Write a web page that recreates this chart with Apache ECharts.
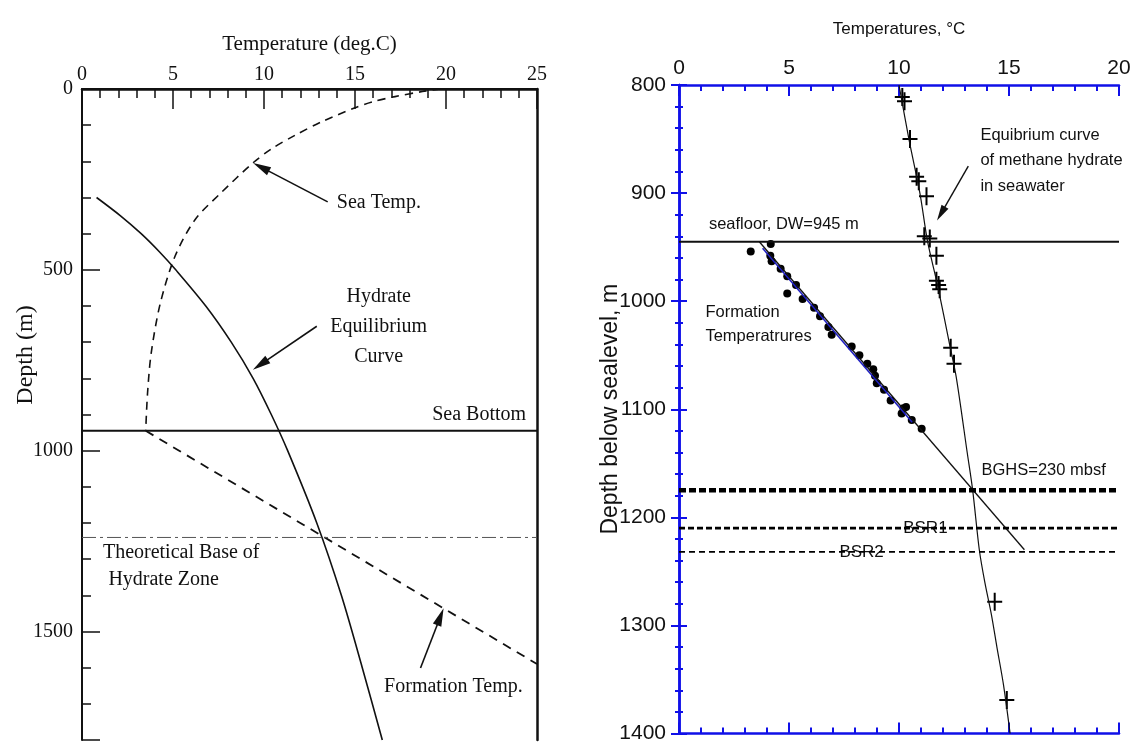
<!DOCTYPE html>
<html><head><meta charset="utf-8">
<script src="https://cdn.jsdelivr.net/npm/echarts@6/dist/echarts.min.js"></script>
<style>html,body{margin:0;padding:0;background:#fff}#c{width:1138px;height:744px}</style>
</head><body><div id="c"></div>
<script>
// ---------- LEFT PANEL DATA (temperature °C, depth m) ----------
const leftTempRange = [0, 25];
const leftDepthRange = [0, 1800];
const seaTemp = [[19.7,0],[18.7,7],[17.2,21],[16.0,35],[15.0,52],[13.2,90],[11.7,128],[10.4,166],[9.4,204],[7.6,289],[6.2,362],[5.1,464],[4.3,593],[3.8,731],[3.6,842],[3.5,945]];
const hydrateCurve = [[0.8,300],[2.1,350],[3.25,400],[4.25,450],[5.15,500],[6.8,600],[8.2,700],[9.4,800],[10.4,900],[11.3,1000],[12.9,1200],[14.25,1400],[15.4,1600],[16.5,1800]];
const formationTemp = [[3.5,945],[25,1590]];
const seaBottomDepth = 945;
const theoreticalBaseDepth = 1240;
const leftLabels = [
  {text:'Sea Temp.', at:[14.0,314], align:'left'},
  {text:'Hydrate\nEquilibrium\nCurve', at:[16.3,657], align:'center'},
  {text:'Sea Bottom', at:[24.4,902], align:'right'},
  {text:'Theoretical Base of', at:[1.15,1283], align:'left'},
  {text:'Hydrate Zone', at:[1.45,1357], align:'left'},
  {text:'Formation Temp.', at:[16.6,1652], align:'left'}
];
const leftArrows = [
  [[13.5,312],[9.84,216]],
  [[12.9,656],[9.80,762]],
  [[18.6,1601],[19.69,1459]]
];

// ---------- RIGHT PANEL DATA ----------
const rightTempRange = [0, 20];
const rightDepthRange = [800, 1400];
const eqCurve = [[10.0,800],[10.45,850],[10.95,900],[11.3,945],[11.75,985],[12.3,1040],[12.6,1070],[13.1,1140],[13.35,1175],[13.65,1230],[13.9,1260],[14.2,1290],[14.45,1320],[14.75,1355],[15.05,1400]];
const eqPoints = [[10.15,811],[10.25,815],[10.5,850],[10.8,885],[10.9,889],[11.25,903],[11.15,940],[11.4,942],[11.7,958],[11.7,981],[11.8,985],[11.85,989],[12.35,1043],[12.5,1058],[14.35,1278],[14.9,1369]];
const formationPoints = [[3.26,954],[4.17,947],[4.15,958],[4.21,963],[4.62,970],[4.92,977],[4.92,993],[5.32,985],[5.62,998],[6.14,1006],[6.41,1014],[6.79,1024],[6.94,1031],[7.85,1042],[8.2,1050],[8.56,1058],[8.83,1063],[8.91,1069],[8.99,1076],[9.32,1082],[9.62,1092],[10.2,1099],[10.32,1098],[10.12,1104],[10.58,1110],[11.03,1118]];
const formationFit = [[3.65,945],[15.7,1230]];
const formationFitBlue = [[3.8,951],[10.6,1112]];
const seafloorDepth = 945;
const bghsDepth = 1175;
const bsr1Depth = 1210;
const bsr2Depth = 1232;
const rightLabels = [
  {text:'seafloor, DW=945 m', at:[1.36,929], align:'left'},
  {text:'Formation', at:[1.2,1010], align:'left'},
  {text:'Temperatrures', at:[1.2,1033], align:'left'},
  {text:'Equibrium curve', at:[13.7,847], align:'left'},
  {text:'of methane hydrate', at:[13.7,870], align:'left'},
  {text:'in seawater', at:[13.7,894], align:'left'},
  {text:'BGHS=230 mbsf', at:[13.75,1157], align:'left'}
];
const bsrLabels = [
  {text:'BSR1', at:[11.2,bsr1Depth]},
  {text:'BSR2', at:[8.3,bsr2Depth]}
];
const rightArrows = [
  [[13.15,875],[11.91,919]]
];

// ---------- STYLE ----------
const serif = "'Liberation Serif','Times New Roman',serif";
const sans = "'Liberation Sans',Arial,sans-serif";
const K = '#111';
const BLUE = '#1010e8';

function hline(depth, xr){ return [[xr[0],depth],[xr[1],depth]]; }
function labelData(arr){
  return arr.map(d => ({name:d.text, value:d.at, label:{align:d.align||'center'}}));
}
function arrowData(arr){
  return arr.map(a => [{coord:a[0]},{coord:a[1]}]);
}

const chart = echarts.init(document.getElementById('c'), null, {renderer:'canvas'});
const option = {
  animation:false,
  backgroundColor:'#fff',
  grid:[
    {left:82, top:89, width:455, height:651},
    {left:679, top:85, width:440, height:655},
    {left:82, top:89, width:455, height:532}   // only carries the left depth-axis title
  ],
  xAxis:[
    {gridIndex:0, type:'value', position:'top', min:leftTempRange[0], max:leftTempRange[1], interval:5,
     name:'Temperature (deg.C)', nameLocation:'middle', nameGap:34, nameMoveOverlap:false,
     nameTextStyle:{fontFamily:serif, fontSize:21, color:K},
     axisLine:{show:true, lineStyle:{color:K, width:2}},
     axisTick:{show:true, inside:true, length:20, lineStyle:{color:K, width:1.5}},
     minorTick:{show:true, splitNumber:5, length:9, lineStyle:{color:K, width:1.5}},
     axisLabel:{fontFamily:serif, fontSize:20, color:K, margin:4},
     splitLine:{show:false}, minorSplitLine:{show:false}},
    {gridIndex:0, type:'value', position:'bottom', min:leftTempRange[0], max:leftTempRange[1],
     axisLine:{show:true, lineStyle:{color:K, width:2.5}}, axisTick:{show:false}, axisLabel:{show:false}, splitLine:{show:false}},
    {gridIndex:1, type:'value', position:'top', min:rightTempRange[0], max:rightTempRange[1], interval:5,
     name:'Temperatures, °C', nameLocation:'middle', nameGap:47, nameMoveOverlap:false,
     nameTextStyle:{fontFamily:sans, fontSize:17, color:K},
     axisLine:{show:true, lineStyle:{color:BLUE, width:2.5}},
     axisTick:{show:true, inside:true, length:11, lineStyle:{color:BLUE, width:2}},
     minorTick:{show:true, splitNumber:5, length:6, lineStyle:{color:BLUE, width:2}},
     axisLabel:{fontFamily:sans, fontSize:21, color:K, margin:6},
     splitLine:{show:false}},
    {gridIndex:1, type:'value', position:'bottom', min:rightTempRange[0], max:rightTempRange[1], interval:5,
     axisLine:{show:true, lineStyle:{color:BLUE, width:2.5}},
     axisTick:{show:true, inside:true, length:11, lineStyle:{color:BLUE, width:2}},
     minorTick:{show:true, splitNumber:5, length:6, lineStyle:{color:BLUE, width:2}},
     axisLabel:{show:false}, splitLine:{show:false}},
    {gridIndex:2, type:'value', show:false, min:0, max:1}
  ],
  yAxis:[
    {gridIndex:0, type:'value', inverse:true, position:'left', min:leftDepthRange[0], max:leftDepthRange[1], interval:100,
     axisLine:{show:true, lineStyle:{color:K, width:2}},
     axisTick:{show:true, inside:true, length:9, lineStyle:{color:K, width:1.5}},
     axisLabel:{fontFamily:serif, fontSize:20, color:K, margin:9, formatter:v => (v % 500 === 0 ? String(v) : '')},
     splitLine:{show:false}},
    {gridIndex:0, type:'value', inverse:true, position:'left', min:leftDepthRange[0], max:leftDepthRange[1], interval:500,
     axisLine:{show:false},
     axisTick:{show:true, inside:true, length:18, lineStyle:{color:K, width:1.5}},
     axisLabel:{show:false}, splitLine:{show:false}},
    {gridIndex:0, type:'value', inverse:true, position:'right', min:leftDepthRange[0], max:leftDepthRange[1],
     axisLine:{show:true, lineStyle:{color:K, width:2.5}}, axisTick:{show:false}, axisLabel:{show:false}, splitLine:{show:false}},
    {gridIndex:1, type:'value', inverse:true, position:'left', min:rightDepthRange[0], max:rightDepthRange[1], interval:100,
     name:'Depth below sealevel, m', nameLocation:'middle', nameGap:57, nameMoveOverlap:false,
     nameTextStyle:{fontFamily:sans, fontSize:23, color:K},
     axisLine:{show:true, lineStyle:{color:BLUE, width:2.5}},
     axisTick:{show:true, inside:true, length:8, lineStyle:{color:BLUE, width:2}},
     minorTick:{show:true, splitNumber:5, length:4, lineStyle:{color:BLUE, width:2}},
     axisLabel:{fontFamily:sans, fontSize:21, color:K, margin:13, formatter:v => String(v)},
     splitLine:{show:false}},
    {gridIndex:1, type:'value', inverse:true, position:'right', min:rightDepthRange[0], max:rightDepthRange[1], interval:100,
     axisLine:{show:true, lineStyle:{color:BLUE, width:2.5}},
     axisTick:{show:true, inside:true, length:8, lineStyle:{color:BLUE, width:2}},
     minorTick:{show:true, splitNumber:5, length:4, lineStyle:{color:BLUE, width:2}},
     axisLabel:{show:false}, splitLine:{show:false}},
    {gridIndex:2, type:'value', inverse:true, position:'left', min:0, max:1,
     name:'Depth (m)', nameLocation:'middle', nameGap:44, nameMoveOverlap:false,
     nameTextStyle:{fontFamily:serif, fontSize:24, color:K},
     axisLine:{show:false}, axisTick:{show:false}, axisLabel:{show:false}, splitLine:{show:false}}
  ],
  series:[
    // left panel
    {type:'line', xAxisIndex:0, yAxisIndex:0, data:seaTemp, smooth:0.3, symbol:'none',
     lineStyle:{color:K, width:1.6, type:[8,6]}},
    {type:'line', xAxisIndex:0, yAxisIndex:0, data:hydrateCurve, smooth:0.3, symbol:'none',
     lineStyle:{color:K, width:1.6}},
    {type:'line', xAxisIndex:0, yAxisIndex:0, data:formationTemp, symbol:'none',
     lineStyle:{color:K, width:1.8, type:[9,7]}},
    {type:'line', xAxisIndex:0, yAxisIndex:0, data:hline(seaBottomDepth, leftTempRange), symbol:'none',
     lineStyle:{color:K, width:2}},
    {type:'line', xAxisIndex:0, yAxisIndex:0, data:hline(theoreticalBaseDepth, leftTempRange), symbol:'none',
     lineStyle:{color:'#555', width:1, type:[14,4,3,4]}},
    {type:'scatter', xAxisIndex:0, yAxisIndex:0, symbolSize:0, silent:true,
     data:labelData(leftLabels), itemStyle:{opacity:1},
     label:{show:true, position:[0,0], verticalAlign:'middle', formatter:'{b}', fontFamily:serif, fontSize:20, lineHeight:30, color:K},
     markLine:{silent:true, symbol:['none','triangle'], symbolSize:[9,18], animation:false,
       lineStyle:{color:K, width:1.6, type:'solid'}, label:{show:false}, emphasis:{disabled:true},
       data:arrowData(leftArrows)}},
    // right panel
    {type:'line', xAxisIndex:2, yAxisIndex:3, data:eqCurve, smooth:0.3, symbol:'none',
     lineStyle:{color:K, width:1.2}},
    {type:'scatter', xAxisIndex:2, yAxisIndex:3, data:eqPoints,
     symbol:'path://M6.5,0H8.5V8H15V10H8.5V18H6.5V10H0V8H6.5Z', symbolSize:[15,18],
     itemStyle:{color:'#000', opacity:1}},
    {type:'line', xAxisIndex:2, yAxisIndex:3, data:formationFitBlue, symbol:'none',
     lineStyle:{color:'#2020c0', width:1.6}},
    {type:'line', xAxisIndex:2, yAxisIndex:3, data:formationFit, symbol:'none',
     lineStyle:{color:K, width:1.3}},
    {type:'scatter', xAxisIndex:2, yAxisIndex:3, data:formationPoints, symbol:'circle', symbolSize:8,
     itemStyle:{color:'#000', opacity:1}},
    {type:'line', xAxisIndex:2, yAxisIndex:3, data:hline(seafloorDepth, rightTempRange), symbol:'none',
     lineStyle:{color:K, width:2}},
    {type:'line', xAxisIndex:2, yAxisIndex:3, data:hline(bghsDepth, rightTempRange), symbol:'none',
     lineStyle:{color:'#000', width:4.5, type:[7,3]}},
    {type:'line', xAxisIndex:2, yAxisIndex:3, data:hline(bsr1Depth, rightTempRange), symbol:'none',
     lineStyle:{color:'#000', width:2.6, type:[6,3]}},
    {type:'line', xAxisIndex:2, yAxisIndex:3, data:hline(bsr2Depth, rightTempRange), symbol:'none',
     lineStyle:{color:'#000', width:1.8, type:[6,4]}},
    {type:'scatter', xAxisIndex:2, yAxisIndex:3, symbolSize:0, silent:true, itemStyle:{opacity:1},
     data:bsrLabels.map(d => ({name:d.text, value:d.at})),
     label:{show:true, position:[0,0], align:'center', verticalAlign:'middle', formatter:'{b}',
       fontFamily:sans, fontSize:17, color:K, backgroundColor:'#fff', padding:[0,2]}},
    {type:'scatter', xAxisIndex:2, yAxisIndex:3, symbolSize:0, silent:true, itemStyle:{opacity:1},
     data:labelData(rightLabels),
     label:{show:true, position:[0,0], verticalAlign:'middle', formatter:'{b}', fontFamily:sans, fontSize:16.5, color:K},
     markLine:{silent:true, symbol:['none','triangle'], symbolSize:[8,16], animation:false,
       lineStyle:{color:K, width:1.4, type:'solid'}, label:{show:false}, emphasis:{disabled:true},
       data:arrowData(rightArrows)}}
  ]
};
chart.setOption(option);
</script>
</body></html>
